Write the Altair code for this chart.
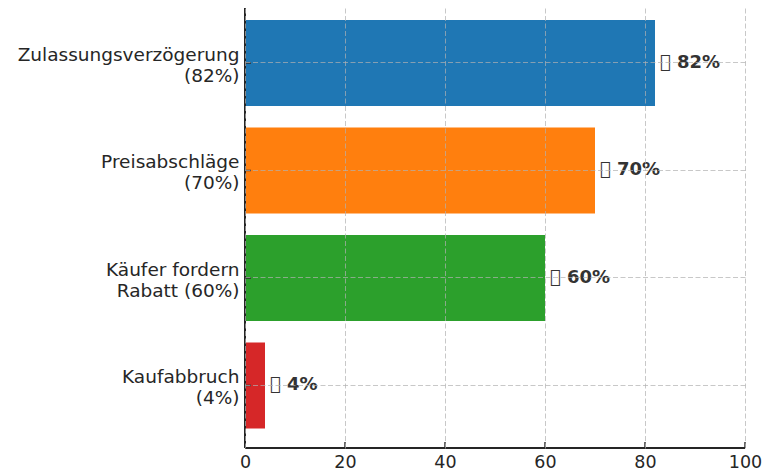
import altair as alt
import pandas as pd

categories = ["Zulassungsverzögerung\n(82%)", "Preisabschläge\n(70%)",
              "Käufer fordern\nRabatt (60%)", "Kaufabbruch\n(4%)"]
values = [82, 70, 60, 4]
colors = ["#1f77b4", "#ff7f0e", "#2ca02c", "#d62728"]
bar_labels = ["\ue000 82%", "\ue000 70%", "\ue000 60%", "\ue000 4%"]
x_ticks = [0, 20, 40, 60, 80, 100]

df = pd.DataFrame({"cat": categories, "value": values, "color": colors, "label": bar_labels})
ticks_df = pd.DataFrame({"t": x_ticks})

FONT = "DejaVu Sans"
INK = "#262626"

yscale = alt.Scale(domain=categories, paddingInner=0.2, paddingOuter=0.1465, align=0.38)
xscale = alt.Scale(domain=[0, 100], nice=False, zero=True)

grid_kw = dict(grid=True, gridColor="#b0b0b0", gridDash=[5, 2.5], gridOpacity=0.7,
               gridWidth=1, zindex=1, tickSize=0, domain=False)

bars = alt.Chart(df).mark_bar().encode(
    x=alt.X("value:Q", scale=xscale,
            axis=alt.Axis(values=x_ticks, title=None, labelFont=FONT, labelFontSize=17.5,
                          labelColor=INK, labelPadding=5, labelFlush=False, **grid_kw)),
    y=alt.Y("cat:N", scale=yscale, sort=categories,
            axis=alt.Axis(title=None, labelFont=FONT, labelFontSize=18.5, labelColor=INK,
                          labelPadding=6, labelLimit=400, labelLineHeight=21, labelOffset=-8,
                          labelExpr="split(datum.label, '\\n')", **grid_kw)),
    color=alt.Color("color:N", scale=None),
)

text = alt.Chart(df).transform_calculate(xpos="datum.value + 1").mark_text(
    align="left", baseline="middle", font=FONT, fontSize=18, fontWeight="bold", color="#333333"
).encode(
    x=alt.X("xpos:Q", scale=xscale),
    y=alt.Y("cat:N", scale=yscale, sort=categories),
    text="label:N",
)

ytick = alt.Chart(df).mark_rule(color=INK, strokeWidth=1.4).encode(
    y=alt.Y("cat:N", scale=yscale, sort=categories),
    x=alt.value(0), x2=alt.value(6),
)

xtick = alt.Chart(ticks_df).mark_rule(color=INK, strokeWidth=1.4).encode(
    x=alt.X("t:Q", scale=xscale),
    y=alt.value(434), y2=alt.value(440),
)

left_spine = alt.Chart(ticks_df).mark_rule(color=INK, strokeWidth=1.4).encode(
    x=alt.value(0), y=alt.value(0), y2=alt.value(440)
)
bottom_spine = alt.Chart(ticks_df).mark_rule(color=INK, strokeWidth=1.4).encode(
    x=alt.value(0), x2=alt.value(500), y=alt.value(440)
)

chart = alt.layer(bars, text, ytick, xtick, left_spine, bottom_spine).properties(
    width=500, height=440,
    autosize=alt.AutoSizeParams(type="none"),
    padding={"left": 237, "top": 0, "right": 27, "bottom": 30},
).configure_view(stroke=None)

chart.save("out.html", embed_options={"renderer": "svg", "actions": False})
